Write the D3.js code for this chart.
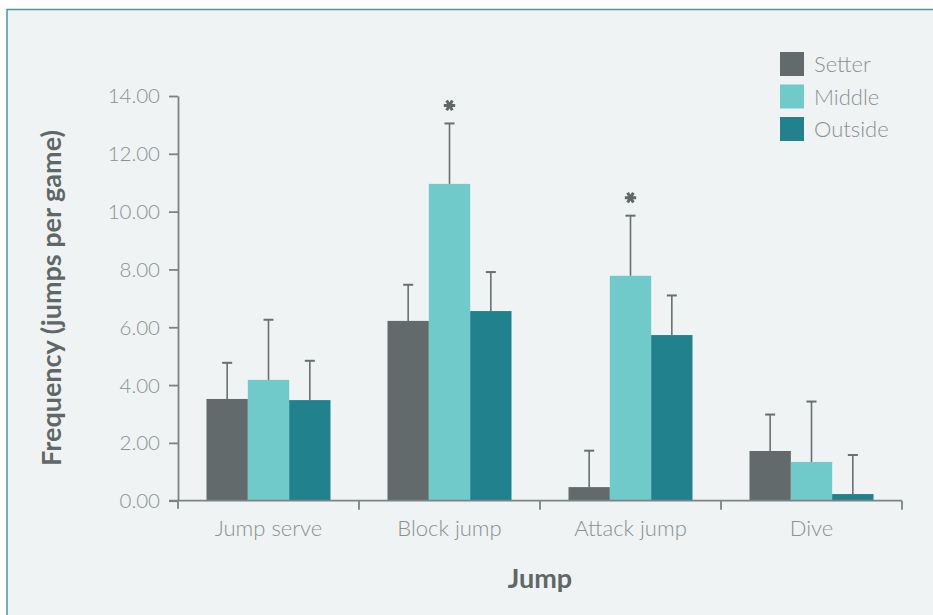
<!DOCTYPE html>
<html>
<head>
<meta charset="utf-8">
<script src="https://cdn.jsdelivr.net/npm/d3@7"></script>
<style>
  html, body { margin: 0; padding: 0; background: #ffffff; }
  svg { display: block; font-family: Lato, "Open Sans", sans-serif; }
</style>
</head>
<body>
<svg id="chart" width="933" height="615"></svg>
<script>
// Jump frequency per game by playing position
const categories = ["Jump serve", "Block jump", "Attack jump", "Dive"];
const series = ["Setter", "Middle", "Outside"];
const setterMeans  = [3.52, 6.22, 0.47, 1.72];
const setterSD     = [1.25, 1.25, 1.26, 1.26];
const middleMeans  = [4.18, 10.96, 7.78, 1.34];
const middleSD     = [2.08, 2.09, 2.08, 2.09];
const outsideMeans = [3.48, 6.56, 5.73, 0.23];
const outsideSD    = [1.36, 1.35, 1.37, 1.35];
const significant  = [[1, "Middle"], [2, "Middle"]];
const yTicks = [0, 2, 4, 6, 8, 10, 12, 14];
const colors = ["#626a6b", "#70caca", "#21818c"];

const means = { Setter: setterMeans, Middle: middleMeans, Outside: outsideMeans };
const sds = { Setter: setterSD, Middle: middleSD, Outside: outsideSD };

const svg = d3.select("#chart");

// panel background with teal edge along top and left
svg.append("rect")
  .attr("x", 7).attr("y", 9.5).attr("width", 940).attr("height", 620)
  .attr("fill", "#eff3f4")
  .attr("stroke", "#4b979d").attr("stroke-width", 1.5);

const x0 = 178, x1 = 902, yBase = 500.7, yTop = 96;

const x = d3.scaleBand().domain(categories).range([x0, x1]);
const xs = d3.scaleBand().domain(series).range([28.5, x.bandwidth() - 28.5]);
const y = d3.scaleLinear().domain([0, 14]).range([yBase, yTop]);
const color = d3.scaleOrdinal().domain(series).range(colors);

const rows = [];
categories.forEach((c, i) => series.forEach(s => rows.push({ c, i, s, v: means[s][i], sd: sds[s][i] })));

// bars
svg.append("g").selectAll("rect").data(rows).join("rect")
  .attr("x", d => x(d.c) + xs(d.s))
  .attr("width", xs.bandwidth())
  .attr("y", d => y(d.v))
  .attr("height", d => y(0) - y(d.v))
  .attr("fill", d => color(d.s));

// upper error bars
const eb = svg.append("g").attr("stroke", "#677071");
eb.selectAll("line.stem").data(rows).join("line")
  .attr("class", "stem")
  .attr("x1", d => x(d.c) + xs(d.s) + xs.bandwidth() / 2)
  .attr("x2", d => x(d.c) + xs(d.s) + xs.bandwidth() / 2)
  .attr("y1", d => y(d.v))
  .attr("y2", d => y(d.v + d.sd))
  .attr("stroke-width", 1.6);
eb.selectAll("line.cap").data(rows).join("line")
  .attr("class", "cap")
  .attr("x1", d => x(d.c) + xs(d.s) + xs.bandwidth() / 2 - 5)
  .attr("x2", d => x(d.c) + xs(d.s) + xs.bandwidth() / 2 + 5)
  .attr("y1", d => y(d.v + d.sd))
  .attr("y2", d => y(d.v + d.sd))
  .attr("stroke-width", 2);

// significance markers
const star = d3.symbol().type(d3.symbolAsterisk).size(90);
svg.append("g").selectAll("path").data(significant).join("path")
  .attr("d", star)
  .attr("transform", d => {
    const i = d[0], s = d[1];
    const cx = x(categories[i]) + xs(s) + xs.bandwidth() / 2;
    const cy = y(means[s][i] + sds[s][i]) - 18;
    return `translate(${cx},${cy}) rotate(90)`;
  })
  .attr("fill", "none").attr("stroke", "#5f6767").attr("stroke-width", 3);

// y axis
const yAxis = svg.append("g").attr("transform", `translate(${x0},0)`)
  .call(d3.axisLeft(y).tickValues(yTicks).tickFormat(d3.format(".2f")).tickSize(9).tickSizeOuter(0));
yAxis.select(".domain").attr("stroke", "#7b8383").attr("stroke-width", 1.8);
yAxis.selectAll(".tick line").attr("stroke", "#7b8383").attr("stroke-width", 1.8);
yAxis.selectAll(".tick text")
  .attr("x", -18).attr("dy", "0.34em")
  .attr("fill", "#8a9191").attr("font-size", 20.5).attr("font-weight", 300)
  .attr("font-family", "Lato, sans-serif");
// y axis line continues a little past the baseline
svg.append("line").attr("x1", x0).attr("x2", x0).attr("y1", yBase).attr("y2", yBase + 8)
  .attr("stroke", "#7b8383").attr("stroke-width", 1.8);

// x axis with ticks at the category boundaries
svg.append("line").attr("x1", x0 - 9).attr("x2", x1).attr("y1", yBase).attr("y2", yBase)
  .attr("stroke", "#7b8383").attr("stroke-width", 1.8);
const bounds = categories.map(c => x(c)).concat([x1]);
svg.append("g").selectAll("line").data(bounds.slice(1)).join("line")
  .attr("x1", d => d).attr("x2", d => d)
  .attr("y1", yBase).attr("y2", yBase + 9)
  .attr("stroke", "#7b8383").attr("stroke-width", 1.8);
svg.append("g").selectAll("text").data(categories).join("text")
  .attr("x", d => x(d) + x.bandwidth() / 2)
  .attr("y", 536)
  .attr("text-anchor", "middle")
  .attr("fill", "#8a9191").attr("font-size", 22).attr("font-weight", 300)
  .text(d => d);

// axis titles
svg.append("text")
  .attr("transform", "translate(61,298) rotate(-90)")
  .attr("text-anchor", "middle")
  .attr("fill", "#5f6767").attr("font-size", 27).attr("font-weight", 700)
  .text("Frequency (jumps per game)");
svg.append("text")
  .attr("x", (x0 + x1) / 2).attr("y", 588)
  .attr("text-anchor", "middle")
  .attr("fill", "#5f6767").attr("font-size", 27).attr("font-weight", 700)
  .text("Jump");

// legend
const legend = svg.append("g").selectAll("g").data(series).join("g")
  .attr("transform", (d, i) => `translate(780,${52 + i * 32.5})`);
legend.append("rect").attr("width", 24).attr("height", 24).attr("fill", d => color(d));
legend.append("text")
  .attr("x", 34).attr("y", 20)
  .attr("fill", "#8a9191").attr("font-size", 22).attr("font-weight", 300)
  .text(d => d);
</script>
</body>
</html>
